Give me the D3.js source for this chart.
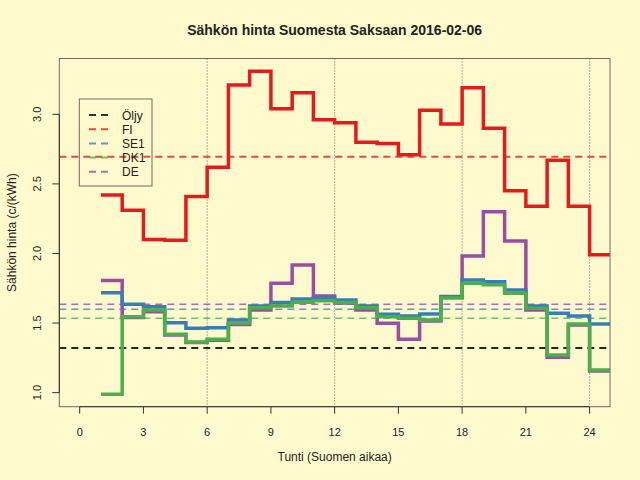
<!DOCTYPE html>
<html>
<head>
<meta charset="utf-8">
<script src="https://cdn.jsdelivr.net/npm/d3@7"></script>
<style>
  html, body { margin: 0; padding: 0; background: #fffacd; }
  svg { display: block; font-family: "Liberation Sans", Arial, sans-serif; }
</style>
</head>
<body>
<script>
// hours 1..24, price c/kWh
const hours = d3.range(1, 25);
const fi = [2.42, 2.31, 2.10, 2.095, 2.41, 2.62, 3.21, 3.31, 3.04, 3.155, 2.96, 2.94,
  2.80, 2.79, 2.71, 3.03, 2.93, 3.19, 2.90, 2.45, 2.34, 2.67, 2.34, 1.99];
const se1 = [1.718, 1.635, 1.618, 1.503, 1.463, 1.467, 1.522, 1.623, 1.647, 1.673, 1.678, 1.666,
  1.623, 1.563, 1.551, 1.565, 1.685, 1.81, 1.797, 1.738, 1.623, 1.57, 1.551, 1.494];
const dk1 = [0.989, 1.546, 1.594, 1.42, 1.364, 1.384, 1.50, 1.61, 1.623, 1.649, 1.66, 1.647,
  1.61, 1.546, 1.534, 1.522, 1.68, 1.786, 1.776, 1.714, 1.606, 1.27, 1.494, 1.163];
const de = [1.805, 1.54, 1.582, 1.415, 1.36, 1.376, 1.49, 1.594, 1.786, 1.917, 1.695, 1.644,
  1.594, 1.499, 1.384, 1.515, 1.69, 1.982, 2.30, 2.09, 1.594, 1.254, 1.486, 1.156];

// dashed reference levels
const levelNames = ["Öljy", "FI", "SE1", "DK1", "DE"];
const levelValues = [1.32, 2.695, 1.60, 1.535, 1.635];
const colors = ["#000000", "#e41a1c", "#377eb8", "#4daf4a", "#984ea3"];

const xTicks = d3.range(0, 25, 3);
const yTicks = [1.0, 1.5, 2.0, 2.5, 3.0];
const gridHours = [6, 12, 18, 24];

const W = 640, H = 480;
const pLeft = 59.3, pRight = 610, pTop = 58.5, pBottom = 406.7;

const svg = d3.select("body").append("svg").attr("width", W).attr("height", H);
svg.append("rect").attr("width", W).attr("height", H).attr("fill", "#fffacd");

const x = d3.scaleLinear().domain([-0.96, 24.96]).range([pLeft, pRight]);
const y = d3.scaleLinear().domain([0.899, 3.401]).range([pBottom, pTop]);

svg.append("clipPath").attr("id", "plot")
  .append("rect").attr("x", pLeft).attr("y", pTop)
  .attr("width", pRight - pLeft).attr("height", pBottom - pTop);

const plot = svg.append("g").attr("clip-path", "url(#plot)");

// dotted grid lines
plot.selectAll(".grid").data(gridHours).enter().append("line")
  .attr("x1", (d) => x(d)).attr("x2", (d) => x(d))
  .attr("y1", pTop).attr("y2", pBottom)
  .attr("stroke", "#666").attr("stroke-width", 1)
  .attr("stroke-dasharray", "1,2");

// dashed levels
levelValues.forEach((v, i) => {
  plot.append("line")
    .attr("x1", pLeft).attr("x2", pRight)
    .attr("y1", y(v)).attr("y2", y(v))
    .attr("stroke", colors[i])
    .attr("stroke-opacity", i === 0 ? 0.85 : 0.8)
    .attr("stroke-width", i < 2 ? 2 : 1.5)
    .attr("stroke-dasharray", "7,5");
});

// step lines
const line = d3.line()
  .x((d) => x(d[0]))
  .y((d) => y(d[1]))
  .curve(d3.curveStepAfter);

const series = [
  { values: fi, color: colors[1] },
  { values: de, color: colors[4] },
  { values: se1, color: colors[2] },
  { values: dk1, color: colors[3] },
];
series.forEach((s) => {
  const pts = hours.map((h, i) => [h, s.values[i]]);
  pts.push([25, s.values[s.values.length - 1]]);
  plot.append("path")
    .attr("d", line(pts))
    .attr("fill", "none")
    .attr("stroke", s.color)
    .attr("stroke-width", 3.5)
    .attr("stroke-linejoin", "miter")
    .attr("stroke-linecap", "butt");
});

// box
svg.append("rect")
  .attr("x", pLeft).attr("y", pTop)
  .attr("width", pRight - pLeft).attr("height", pBottom - pTop)
  .attr("fill", "none").attr("stroke", "#6f6a5c").attr("stroke-width", 1);

// x axis
const xAxis = svg.append("g");
xAxis.append("line")
  .attr("x1", x(0)).attr("x2", x(24)).attr("y1", pBottom).attr("y2", pBottom)
  .attr("stroke", "#333");
xAxis.selectAll(".xt").data(xTicks).enter().append("line")
  .attr("x1", (d) => x(d)).attr("x2", (d) => x(d))
  .attr("y1", pBottom).attr("y2", pBottom + 7)
  .attr("stroke", "#333");
xAxis.selectAll(".xl").data(xTicks).enter().append("text")
  .attr("x", (d) => x(d)).attr("y", 436)
  .attr("text-anchor", "middle")
  .attr("font-size", 11).attr("fill", "#222")
  .text((d) => d);

// y axis
const yAxis = svg.append("g");
yAxis.append("line")
  .attr("x1", pLeft).attr("x2", pLeft).attr("y1", y(1)).attr("y2", y(3))
  .attr("stroke", "#333");
yAxis.selectAll(".yt").data(yTicks).enter().append("line")
  .attr("x1", pLeft - 7).attr("x2", pLeft)
  .attr("y1", (d) => y(d)).attr("y2", (d) => y(d))
  .attr("stroke", "#333");
yAxis.selectAll(".yl").data(yTicks).enter().append("text")
  .attr("transform", (d) => `translate(41,${y(d)}) rotate(-90)`)
  .attr("text-anchor", "middle")
  .attr("font-size", 11).attr("fill", "#222")
  .text((d) => d.toFixed(1));

// titles
svg.append("text")
  .attr("x", (pLeft + pRight) / 2).attr("y", 35)
  .attr("text-anchor", "middle")
  .attr("font-size", 14).attr("font-weight", "bold").attr("fill", "#222")
  .text("Sähkön hinta Suomesta Saksaan 2016-02-06");
svg.append("text")
  .attr("x", (pLeft + pRight) / 2).attr("y", 461)
  .attr("text-anchor", "middle")
  .attr("font-size", 12).attr("fill", "#222")
  .text("Tunti (Suomen aikaa)");
svg.append("text")
  .attr("transform", `translate(16,${(pTop + pBottom) / 2}) rotate(-90)`)
  .attr("text-anchor", "middle")
  .attr("font-size", 12).attr("fill", "#222")
  .text("Sähkön hinta (c/(kWh)");

// legend
const legend = svg.append("g");
legend.append("rect")
  .attr("x", 79.3).attr("y", 99).attr("width", 72.7).attr("height", 87)
  .attr("fill", "none").attr("stroke", "#6f6a5c");
levelNames.forEach((n, i) => {
  const ly = 115 + i * 14.2;
  legend.append("line")
    .attr("x1", 89).attr("x2", 109).attr("y1", ly).attr("y2", ly)
    .attr("stroke", colors[i]).attr("stroke-opacity", 0.8)
    .attr("stroke-width", 2).attr("stroke-dasharray", "7,5");
  legend.append("text")
    .attr("x", 122).attr("y", ly + 4.5)
    .attr("font-size", 12).attr("fill", "#222")
    .text(n);
});
</script>
</body>
</html>
